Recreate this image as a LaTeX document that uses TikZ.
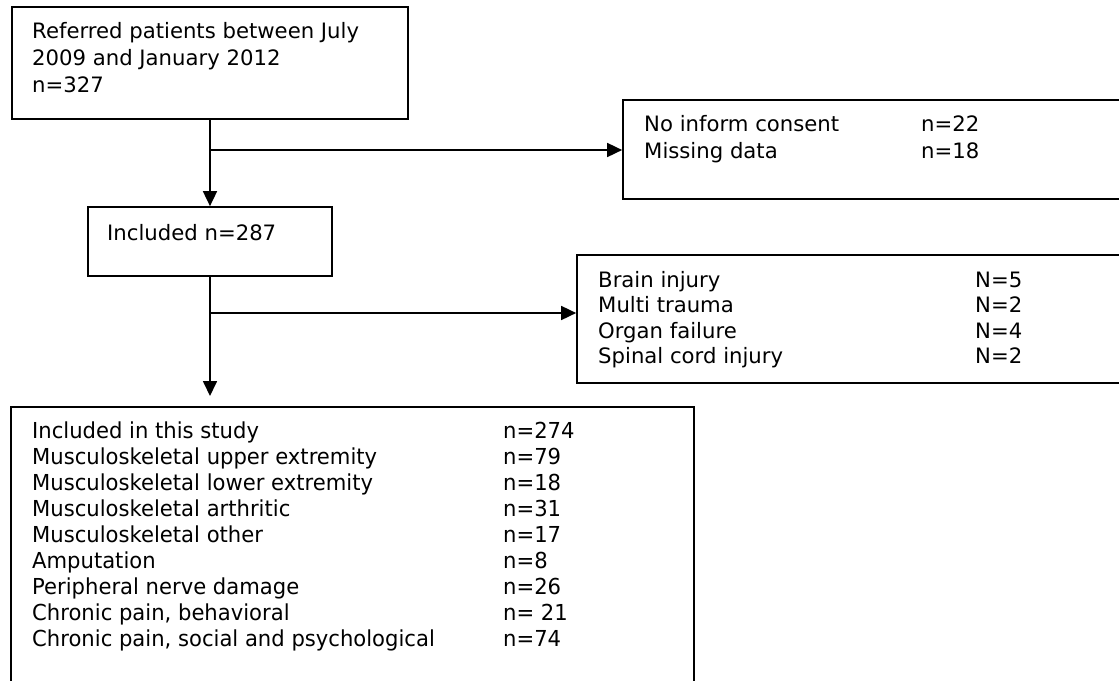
\documentclass[tikz,border=0pt]{standalone}
\usepackage{fontspec}
\setmainfont{DejaVu Sans}
\newfontfamily\narrowfont[FakeStretch=0.96]{DejaVu Sans}
\usetikzlibrary{arrows.meta}

\begin{document}
\begin{tikzpicture}[x=1pt, y=-1pt,
  font=\fontsize{21.2}{27}\selectfont,
  box/.style={draw, line width=1.7pt, inner sep=0pt},
  txt/.style={anchor=base west, inner sep=0pt},
  rowtxt/.style={txt, font=\narrowfont\fontsize{22}{26}\selectfont},
  flow/.style={line width=1.7pt, -{Triangle[length=15pt, width=14pt]}}]
\useasboundingbox (0,0) rectangle (1119,680);
\clip (0,0) rectangle (1119,680);
\node[box, minimum width=396pt, minimum height=112pt] (referred) at (210,63) {};
\node[box, minimum width=244pt, minimum height=69pt] (included) at (210,241.5) {};
\node[box, minimum width=512pt, minimum height=99pt] (excluded) at (879,149.5) {};
\node[box, minimum width=558pt, minimum height=128pt] (dropped) at (856,319) {};
\node[box, minimum width=683pt, minimum height=293pt] (studied) at (352.5,553.5) {};
\foreach \line [count=\i] in {Referred patients between July, 2009 and January 2012, n=327}
  \node[txt] (referred-\i) at (32,11+27*\i) {\line};
\node[txt] (included-1) at (107,240) {Included n=287};
\foreach \why/\cnt [count=\i] in {No inform consent/n=22, Missing data/n=18} {
  \node[txt] (excluded-\i) at (644,104+27*\i) {\why};
  \node[txt] (excluded-n\i) at (921,104+27*\i) {\cnt};
}
\foreach \why/\cnt [count=\i] in {Brain injury/N=5, Multi trauma/N=2, Organ failure/N=4, Spinal cord injury/N=2} {
  \node[txt] (dropped-\i) at (598,261.4+25.6*\i) {\why};
  \node[txt] (dropped-n\i) at (975,261.4+25.6*\i) {\cnt};
}
\foreach \diag/\cnt [count=\i] in {Included in this study/n=274,
    Musculoskeletal upper extremity/n=79, Musculoskeletal lower extremity/n=18,
    Musculoskeletal arthritic/n=31, Musculoskeletal other/n=17, Amputation/n=8,
    Peripheral nerve damage/n=26, {Chronic pain, behavioral}/{n= 21},
    {Chronic pain, social and psychological}/n=74} {
  \node[rowtxt] (studied-\i) at (32,413+25.9*\i) {\diag};
  \node[rowtxt] (studied-n\i) at (503,413+25.9*\i) {\cnt};
}
\coordinate (split-a) at (210,150);
\coordinate (split-b) at (210,313);
\coordinate (stop) at (210,396);
\draw[flow] (referred) -- (included);
\draw[flow] (split-a) -- (split-a -| excluded.west);
\draw[flow] (included) -- (stop);
\draw[flow] (split-b) -- (split-b -| dropped.west);
\end{tikzpicture}
\end{document}
